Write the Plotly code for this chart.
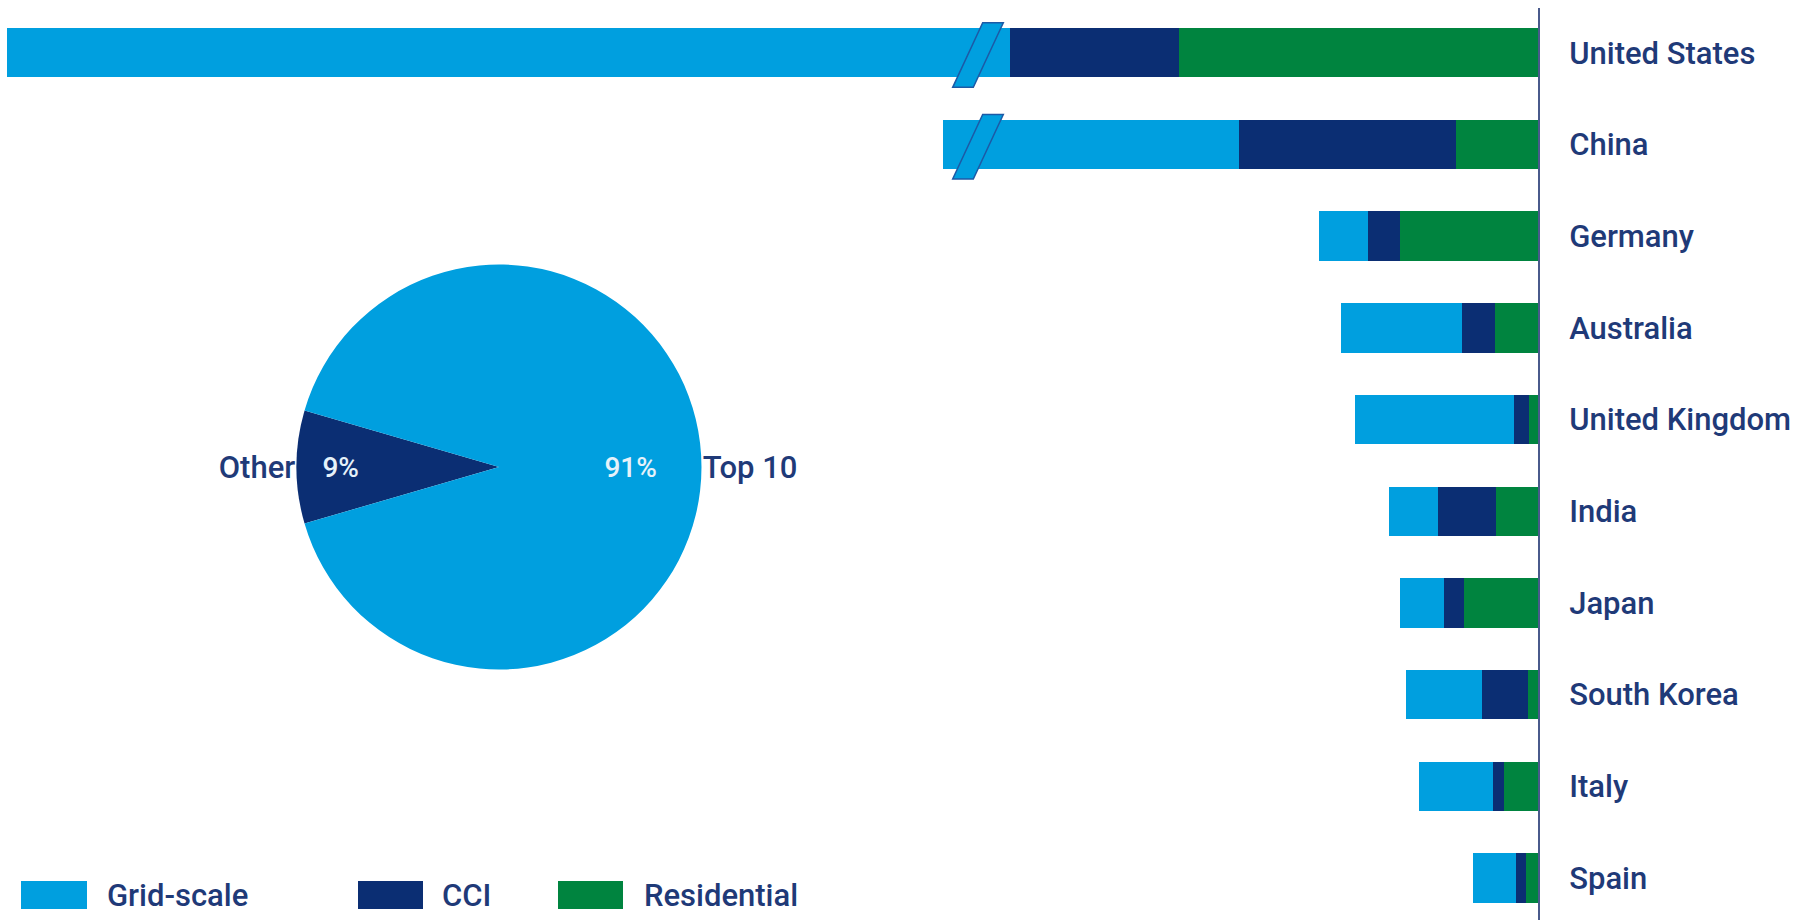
import plotly.graph_objects as go

# ---------------- data ----------------
countries = ["United States", "China", "Germany", "Australia", "United Kingdom",
             "India", "Japan", "South Korea", "Italy", "Spain"]
# plotted lengths (arbitrary units); US and China grid-scale are drawn on a broken axis
grid_scale = [100.3, 29.6, 4.9, 12.1, 15.9, 4.9, 4.4, 7.6, 7.4, 4.3]
cci        = [16.9, 21.7, 3.2, 3.3, 1.5, 5.8, 2.0, 4.6, 1.1, 1.0]
residential = [35.9, 8.2, 13.8, 4.3, 0.9, 4.2, 7.4, 1.0, 3.4, 1.2]
broken = ["United States", "China"]
BREAK_AT = 56.0

pie_labels = ["Other", "Top 10"]
pie_values = [9, 91]

series_names = ["Grid-scale", "CCI", "Residential"]

# ---------------- style ----------------
C_GRID = "#009FDF"
C_CCI = "#0B2E73"
C_RES = "#00843F"
C_TEXT = "#1F3A78"
C_AXIS = "#4A5A8C"
FONT = "Roboto"
W, H = 1810, 920
FS = 31

idx = list(range(len(countries)))

fig = go.Figure()
for name, vals, col in [("Residential", residential, C_RES),
                        ("CCI", cci, C_CCI),
                        ("Grid-scale", grid_scale, C_GRID)]:
    fig.add_trace(go.Bar(y=idx, x=vals, orientation="h", name=name,
                         marker=dict(color=col, line=dict(width=0)),
                         showlegend=False, hoverinfo="skip"))

# axis-break marks
for c in broken:
    i = countries.index(c)
    hw, sl = 1.03, 1.5
    yt, yb = i - 0.327, i + 0.377
    path = (f"M {BREAK_AT - sl + hw} {yt} L {BREAK_AT - sl - hw} {yt} "
            f"L {BREAK_AT + sl - hw} {yb} L {BREAK_AT + sl + hw} {yb} Z")
    fig.add_shape(type="path", path=path, xref="x", yref="y",
                  fillcolor=C_GRID, line=dict(color="#1C5AA6", width=1.5), layer="above")

# pie geometry (pixels)
PCX, PCY, PR = 499, 467, 202.5
def dom(r):
    return dict(x=[(PCX - r) / W, (PCX + r) / W], y=[1 - (PCY + r) / H, 1 - (PCY - r) / H])

pct_font = dict(family=FONT, size=28, color="#E6F2FA", weight=500)
# pie: slices + "Other" percentage
fig.add_trace(go.Pie(labels=pie_labels, values=pie_values, sort=False,
                     direction="clockwise", rotation=253.8,
                     marker=dict(colors=[C_CCI, C_GRID], line=dict(width=0)),
                     texttemplate=["%{percent:.0%}", ""], textposition="inside",
                     insidetextorientation="horizontal", insidetextfont=pct_font,
                     domain=dom(PR), showlegend=False, hoverinfo="skip"))
# pie: "Top 10" percentage placed in an invisible ring
fig.add_trace(go.Pie(labels=pie_labels, values=pie_values, sort=False,
                     direction="clockwise", rotation=253.8, hole=0.3,
                     marker=dict(colors=["rgba(0,0,0,0)", "rgba(0,0,0,0)"], line=dict(width=0)),
                     texttemplate=["", "%{percent:.0%}"], textposition="inside",
                     insidetextorientation="horizontal", insidetextfont=pct_font,
                     domain=dom(PR), showlegend=False, hoverinfo="skip"))
# pie: labels outside (invisible pie slightly smaller so labels hug the rim)
fig.add_trace(go.Pie(labels=pie_labels, values=pie_values, sort=False,
                     direction="clockwise", rotation=253.8,
                     marker=dict(colors=["rgba(0,0,0,0)", "rgba(0,0,0,0)"], line=dict(width=0)),
                     texttemplate="%{label}", textposition="outside",
                     outsidetextfont=dict(family=FONT, size=FS, color=C_TEXT, weight=500),
                     domain=dom(PR - 8), showlegend=False, hoverinfo="skip"))

# custom legend
leg_colors = {"Grid-scale": C_GRID, "CCI": C_CCI, "Residential": C_RES}
leg_x = {"Grid-scale": (21, 87, 105), "CCI": (358, 423, 440), "Residential": (558, 623, 642)}
for n in series_names:
    x0, x1, tx = leg_x[n]
    fig.add_shape(type="rect", xref="paper", yref="paper",
                  x0=x0 / W, x1=x1 / W, y0=1 - 909 / H, y1=1 - 881 / H,
                  fillcolor=leg_colors[n], line=dict(width=0))
    fig.add_annotation(xref="paper", yref="paper", x=tx / W, y=1 - 895 / H,
                       text=n, showarrow=False, xanchor="left", yanchor="middle",
                       font=dict(family=FONT, size=FS, color=C_TEXT, weight=500))

fig.update_layout(
    width=W, height=H, margin=dict(l=0, r=0, t=0, b=0),
    paper_bgcolor="white", plot_bgcolor="white",
    barmode="stack", bargap=0.462,
    xaxis=dict(domain=[0, 1538 / W], range=[153.8, 0], visible=False, fixedrange=True),
    yaxis=dict(domain=[0, 1 - 8 / H], range=[9.458, -0.488], side="right", anchor="x",
               tickmode="array", tickvals=idx, ticktext=countries,
               showline=True, linecolor=C_AXIS, linewidth=2, ticks="",
               ticklabelstandoff=23, showgrid=False, zeroline=False,
               tickfont=dict(family=FONT, size=FS, color=C_TEXT, weight=500)),
)

fig.write_html("out.html")
